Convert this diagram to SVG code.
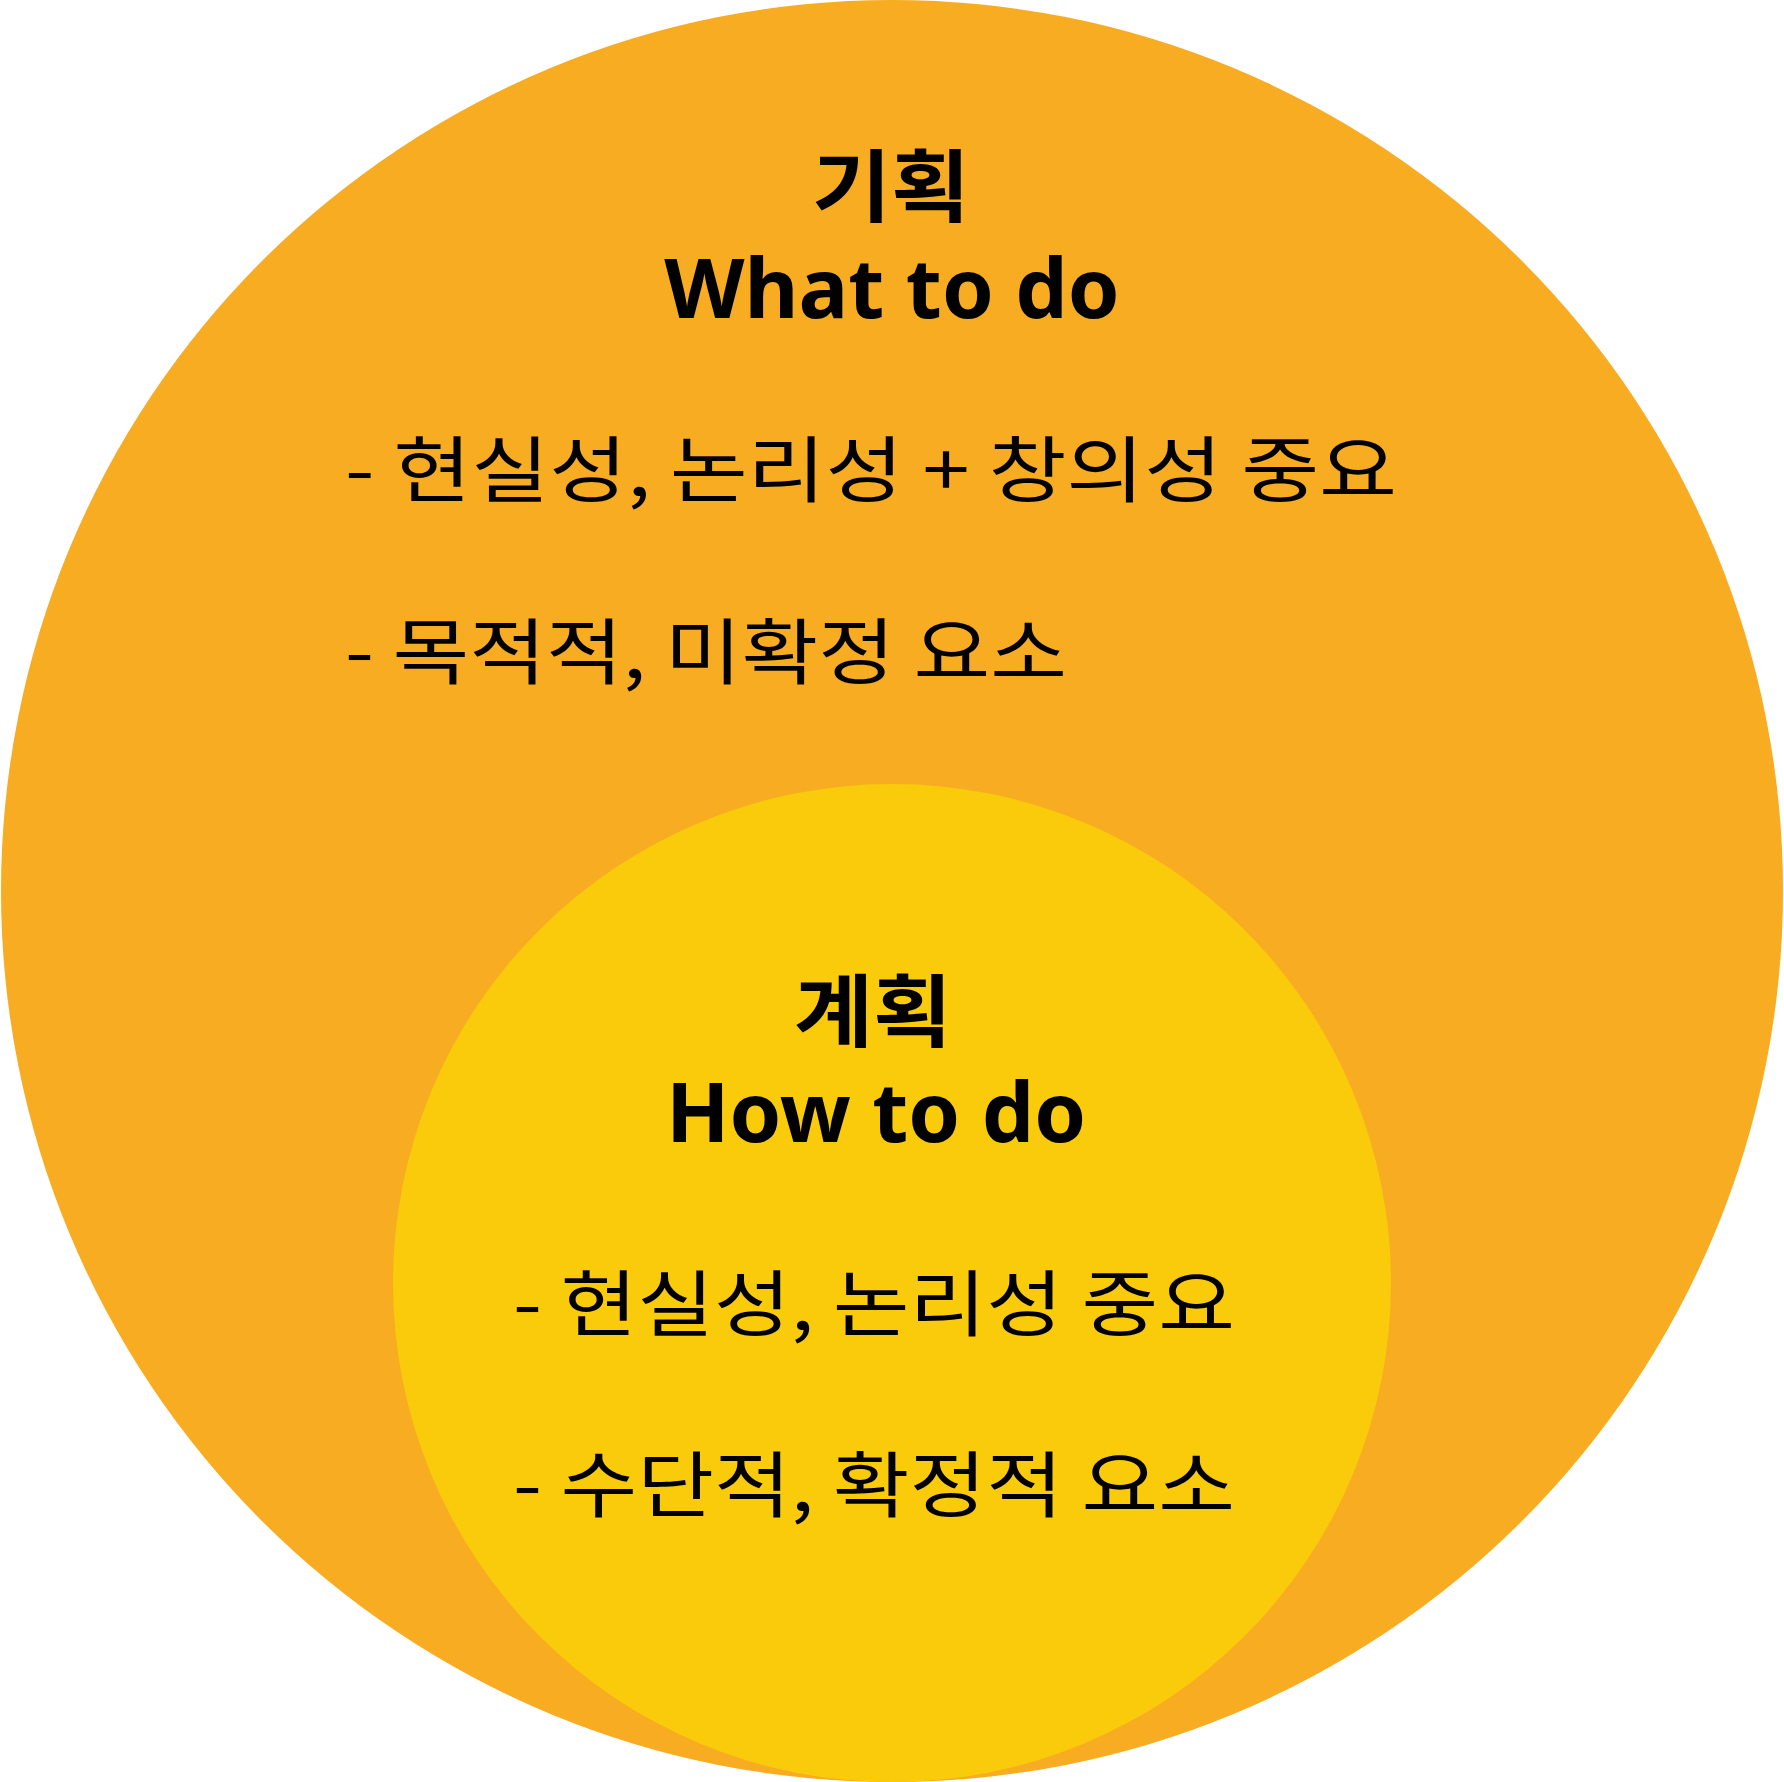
<svg xmlns="http://www.w3.org/2000/svg" width="1784" height="1782" viewBox="0 0 1784 1782">
  <style>
    .title-ko { font-family: "Noto Sans CJK KR", "Noto Sans", sans-serif; font-weight: 700; font-size: 79px; fill: #000; text-anchor: middle; }
    .title-en { font-family: "Noto Sans", "Noto Sans CJK KR", sans-serif; font-weight: 700; font-size: 83px; fill: #000; text-anchor: middle; }
    .item { font-family: "Noto Sans CJK KR", "Noto Sans", sans-serif; font-weight: 400; font-size: 72px; fill: #000; }
  </style>
  <rect width="1784" height="1782" fill="#ffffff"/>
  <g id="planning">
    <circle cx="892" cy="891" r="891" fill="#F8AC22"/>
    <text class="title-ko" x="891" y="216" textLength="158" lengthAdjust="spacingAndGlyphs">기획</text>
    <text class="title-en" x="892" y="318">What to do</text>
    <text class="item" x="345" y="496" textLength="1052" lengthAdjust="spacingAndGlyphs">- 현실성, 논리성 + 창의성 중요</text>
    <text class="item" x="345" y="678" textLength="722" lengthAdjust="spacingAndGlyphs">- 목적적, 미확정 요소</text>
  </g>
  <g id="plan">
    <circle cx="892" cy="1283" r="499" fill="#F9CB0B"/>
    <text class="title-ko" x="873" y="1041" textLength="158" lengthAdjust="spacingAndGlyphs">계획</text>
    <text class="title-en" x="876" y="1142">How to do</text>
    <text class="item" x="513" y="1330" textLength="722" lengthAdjust="spacingAndGlyphs">- 현실성, 논리성 중요</text>
    <text class="item" x="513" y="1511" textLength="722" lengthAdjust="spacingAndGlyphs">- 수단적, 확정적 요소</text>
  </g>
  <g id="connectors"/>
</svg>
